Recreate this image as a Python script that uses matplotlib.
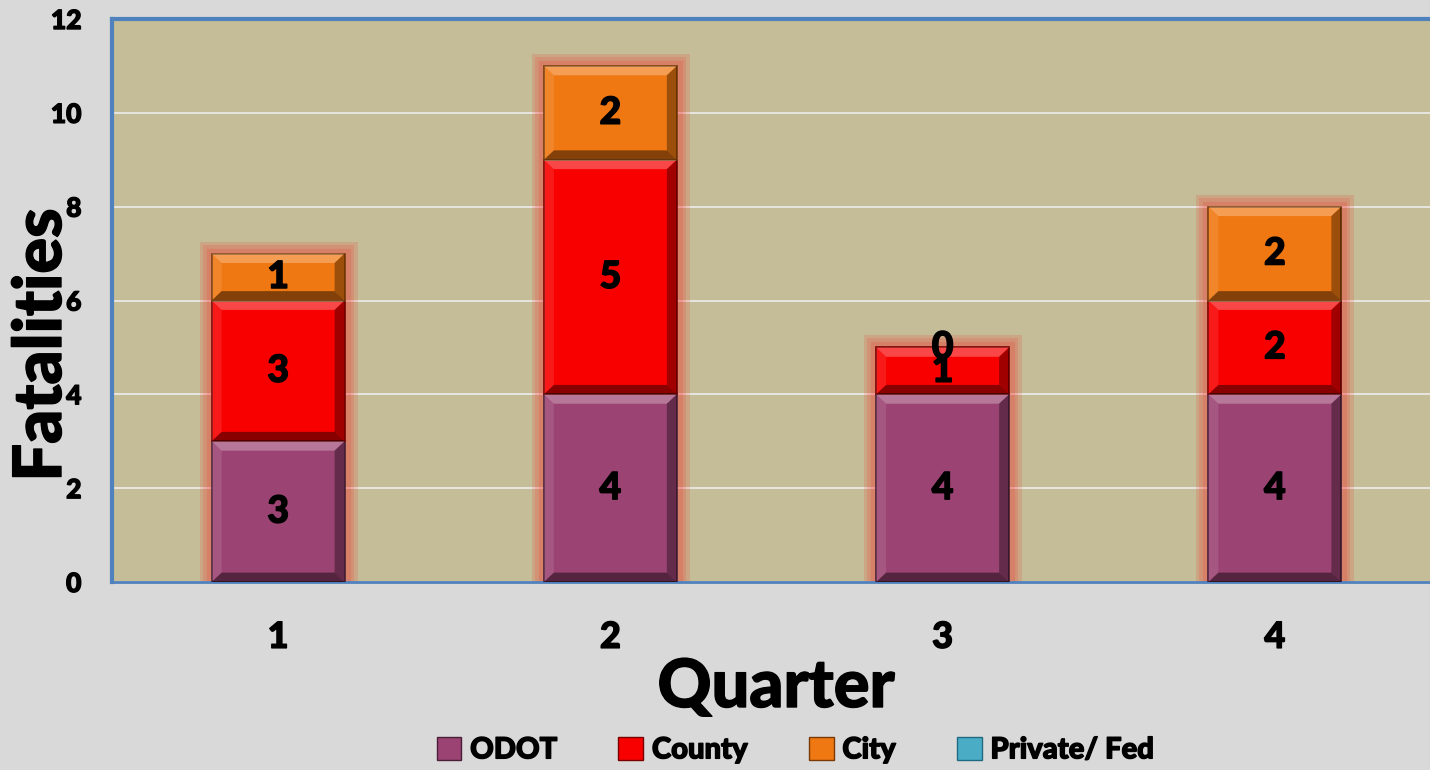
import numpy as np
import matplotlib
matplotlib.use('Agg')
import matplotlib.pyplot as plt
import matplotlib.patheffects as pe
from matplotlib.patches import Patch, Polygon, Rectangle

# values
quarters = ['1', '2', '3', '4']
odot = [3, 4, 4, 4]
county = [3, 5, 1, 2]
city = [1, 2, 0, 2]
private_fed = [0, 0, 0, 0]
y_ticks = [0, 2, 4, 6, 8, 10, 12]

series = [
    ('ODOT', odot, '#9B4373', '#4A1F38'),
    ('County', county, '#F80000', '#7A0000'),
    ('City', city, '#F07812', '#7A3A05'),
    ('Private/ Fed', private_fed, '#4BACC6', '#1F6A80'),
]

plt.rcParams['font.family'] = ['Lato', 'DejaVu Sans']
W = 'black'
heavy = [pe.withStroke(linewidth=1.0, foreground='black')]

fig = plt.figure(figsize=(14.3, 7.7), dpi=100)
fig.patch.set_facecolor('#D9D9D9')
ax = fig.add_axes([112 / 1430, 188 / 770, 1329 / 1430, 563 / 770])
ax.set_facecolor('#C4BD97')
ax.set_xlim(0.5, 4.5)
ax.set_ylim(0, 12)

x = np.arange(1, len(quarters) + 1)
bw = 0.4
bx = 0.03   # bevel size in data units (x)
by = 0.2    # bevel size in data units (y)


def bevel(x0, y0, w, h):
    """light top/left, dark bottom/right edges to mimic the 3d bevel"""
    bh = min(by, h / 3)
    x1, y1 = x0 + w, y0 + h
    faces = [
        ([(x0, y1), (x1, y1), (x1 - bx, y1 - bh), (x0 + bx, y1 - bh)], 'white', 0.28),
        ([(x0, y0), (x0 + bx, y0 + bh), (x0 + bx, y1 - bh), (x0, y1)], 'white', 0.10),
        ([(x1, y0), (x1, y1), (x1 - bx, y1 - bh), (x1 - bx, y0 + bh)], 'black', 0.35),
        ([(x0, y0), (x1, y0), (x1 - bx, y0 + bh), (x0 + bx, y0 + bh)], 'black', 0.45),
    ]
    for pts, c, a in faces:
        ax.add_patch(Polygon(pts, closed=True, facecolor=c, alpha=a,
                             edgecolor='none', zorder=4))


# soft red glow behind each stack
totals = np.sum([odot, county, city, private_fed], axis=0)
for xi, t in zip(x, totals):
    r = Rectangle((xi - bw / 2, 0), bw, t, facecolor='none', edgecolor='none', zorder=2)
    r.set_path_effects([pe.withStroke(linewidth=lw, foreground=(1, 0.05, 0.05, 0.13))
                        for lw in (18, 13, 8)])
    ax.add_patch(r)

bottom = np.zeros(len(quarters))
for name, vals, face, edge in series:
    vals = np.array(vals, dtype=float)
    for xi, v, b0 in zip(x, vals, bottom):
        if v > 0:
            ax.bar(xi, v, width=bw, bottom=b0, color=face, edgecolor=edge,
                   linewidth=1.2, zorder=3)
            bevel(xi - bw / 2, b0, bw, v)
        if name != 'Private/ Fed':
            ax.text(xi, b0 + v / 2, f'{int(v)}', ha='center', va='center',
                    fontsize=27, fontweight=W, color='black', zorder=5,
                    path_effects=heavy)
    bottom += vals

ax.set_yticks(y_ticks)
ax.set_xticks(x)
ax.set_xticklabels(quarters)
ax.tick_params(axis='y', length=0, pad=22, labelsize=19)
ax.tick_params(axis='x', length=0, pad=28, labelsize=26)
for lab in ax.get_xticklabels() + ax.get_yticklabels():
    lab.set_fontweight(W)
    lab.set_path_effects(heavy)
ax.grid(axis='y', color='#EDEDED', linewidth=1.2, zorder=1)
ax.set_axisbelow(True)

for s in ['left', 'top']:
    ax.spines[s].set_color('#4F81BD')
    ax.spines[s].set_linewidth(3)
ax.spines['bottom'].set_color('#4F81BD')
ax.spines['bottom'].set_linewidth(2)
ax.spines['right'].set_visible(False)

fig.text(776 / 1430, 1 - 688 / 770, 'Quarter', ha='center', va='center',
         fontsize=48, fontweight=W, path_effects=heavy)
fig.text(42 / 1430, 1 - 345 / 770, 'Fatalities', ha='center', va='center',
         rotation=90, fontsize=48, fontweight=W, path_effects=heavy)

handles = [Patch(facecolor=f, edgecolor=e, label=n) for n, _, f, e in series]
leg = fig.legend(handles=handles, loc='center', bbox_to_anchor=(795 / 1430, 1 - 750 / 770),
                 ncol=4, frameon=False, handlelength=0.85, handleheight=0.85,
                 handletextpad=0.3, columnspacing=2.1, prop={'weight': W, 'size': 21})
for t in leg.get_texts():
    t.set_path_effects(heavy)

fig.savefig('out.png', dpi=100, facecolor=fig.get_facecolor())
